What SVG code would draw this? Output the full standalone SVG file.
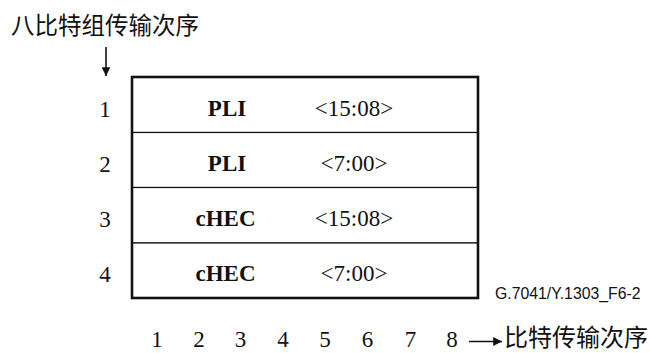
<svg xmlns="http://www.w3.org/2000/svg" width="650" height="353" viewBox="0 0 650 353">
<style>
.cjk{font-family:"Noto Sans CJK SC","Noto Sans CJK JP",sans-serif;font-size:23.5px;fill:#111}
.num{font-family:"Liberation Serif","Times New Roman",serif;font-size:23px;fill:#111;text-anchor:middle}
.lbl{font-family:"Liberation Serif","Times New Roman",serif;font-size:23px;font-weight:bold;fill:#111;text-anchor:middle}
.val{font-family:"Liberation Serif","Times New Roman",serif;font-size:23px;fill:#111;text-anchor:middle}
.fig{font-family:"Liberation Sans",Arial,sans-serif;font-size:15.8px;fill:#111}
.row{fill:#fff;stroke:#111;stroke-width:1.2}
.conn{stroke:#111;stroke-width:1.6;fill:none}
</style>
<defs>
<marker id="ah" viewBox="0 0 10 10" refX="10" refY="5" markerWidth="5.5" markerHeight="5.5" orient="auto" markerUnits="strokeWidth">
<path d="M0,0 L10,5 L0,10 z" fill="#111"/>
</marker>
</defs>
<rect width="650" height="353" fill="#fff"/>
<text class="cjk" x="11" y="33.5">八比特组传输次序</text>
<g id="row1">
<rect class="row" x="132" y="77" width="346" height="55.5"/>
<text class="num" x="105" y="117">1</text>
<text class="lbl" x="227" y="116">PLI</text>
<text class="val" x="354" y="116">&lt;15:08&gt;</text>
</g>
<g id="row2">
<rect class="row" x="132" y="132.5" width="346" height="55"/>
<text class="num" x="105" y="172">2</text>
<text class="lbl" x="227" y="171">PLI</text>
<text class="val" x="354" y="171">&lt;7:00&gt;</text>
</g>
<g id="row3">
<rect class="row" x="132" y="187.5" width="346" height="55.5"/>
<text class="num" x="105" y="227">3</text>
<text class="lbl" x="225.5" y="226">cHEC</text>
<text class="val" x="354" y="226">&lt;15:08&gt;</text>
</g>
<g id="row4">
<rect class="row" x="132" y="243" width="346" height="55"/>
<text class="num" x="105" y="282">4</text>
<text class="lbl" x="225.5" y="281">cHEC</text>
<text class="val" x="354" y="281">&lt;7:00&gt;</text>
</g>
<rect x="132" y="77" width="346" height="221" fill="none" stroke="#111" stroke-width="2.6"/>
<text class="fig" x="495" y="299">G.7041/Y.1303_F6-2</text>
<g id="bits">
<text class="num" x="157" y="347">1</text>
<text class="num" x="199" y="347">2</text>
<text class="num" x="240.5" y="347">3</text>
<text class="num" x="283" y="347">4</text>
<text class="num" x="325" y="347">5</text>
<text class="num" x="367.5" y="347">6</text>
<text class="num" x="410.5" y="347">7</text>
<text class="num" x="452" y="347">8</text>
</g>
<text class="cjk" x="504" y="346" style="font-size:24px">比特传输次序</text>
<g id="connectors">
<line class="conn" x1="106" y1="47" x2="106" y2="76" marker-end="url(#ah)"/>
<line class="conn" x1="469" y1="341.5" x2="502" y2="341.5" marker-end="url(#ah)"/>
</g>
</svg>
